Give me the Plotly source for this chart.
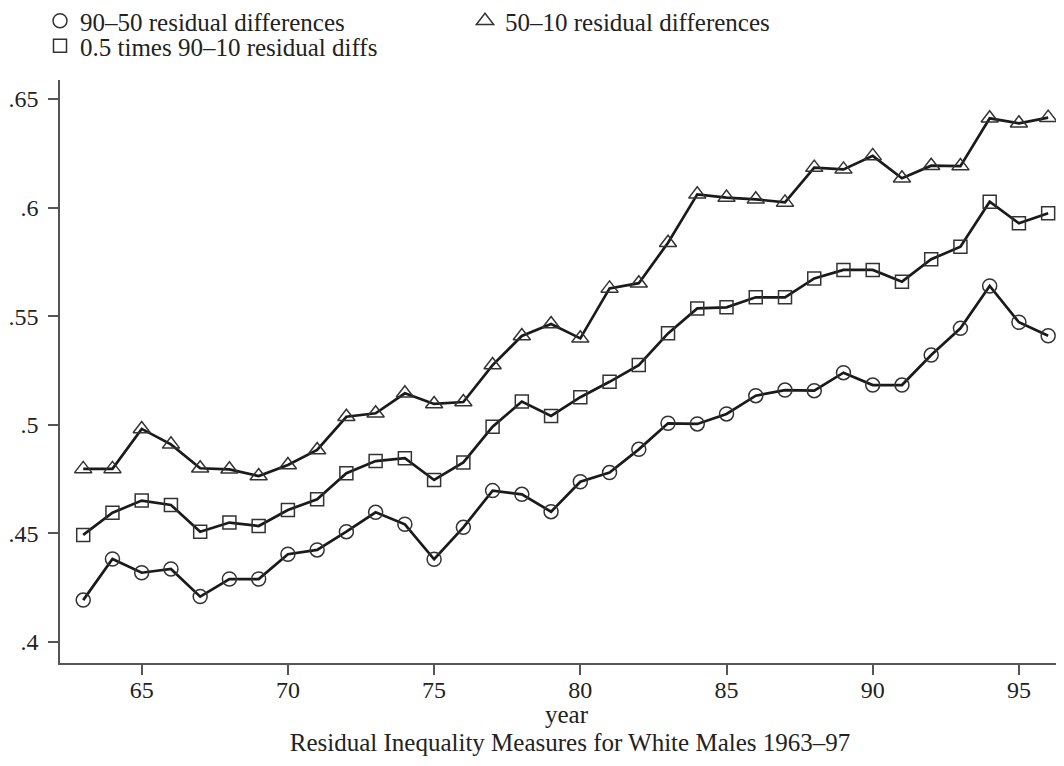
import plotly.graph_objects as go

years = list(range(63, 97))
tick_years = [65, 70, 75, 80, 85, 90, 95]
tick_year_labels = ["65", "70", "75", "80", "85", "90", "95"]
y_ticks = [0.4, 0.45, 0.5, 0.55, 0.6, 0.65]
y_tick_labels = [".4", ".45", ".5", ".55", ".6", ".65"]

names = ["90\u201350 residual differences",
         "50\u201310 residual differences",
         "0.5 times 90\u201310 residual diffs"]

diff_90_50 = [0.4193, 0.4382, 0.4319, 0.4336, 0.4209, 0.4290, 0.4290, 0.4404, 0.4424, 0.4508,
              0.4597, 0.4542, 0.4381, 0.4528, 0.4697, 0.4680, 0.4600, 0.4738, 0.4780, 0.4887,
              0.5007, 0.5004, 0.5050, 0.5134, 0.5160, 0.5157, 0.5240, 0.5183, 0.5183, 0.5321,
              0.5444, 0.5639, 0.5472, 0.5410]
diff_50_10 = [0.4797, 0.4797, 0.4981, 0.4910, 0.4800, 0.4795, 0.4764, 0.4815, 0.4884, 0.5037,
              0.5053, 0.5145, 0.5096, 0.5105, 0.5275, 0.5409, 0.5464, 0.5398, 0.5628, 0.5652,
              0.5838, 0.6061, 0.6046, 0.6038, 0.6024, 0.6184, 0.6176, 0.6238, 0.6135, 0.6193,
              0.6191, 0.6411, 0.6388, 0.6414]
half_90_10 = [0.4493, 0.4595, 0.4651, 0.4631, 0.4508, 0.4550, 0.4534, 0.4608, 0.4657, 0.4777,
              0.4833, 0.4846, 0.4746, 0.4827, 0.4991, 0.5107, 0.5041, 0.5127, 0.5198, 0.5275,
              0.5421, 0.5536, 0.5541, 0.5587, 0.5587, 0.5674, 0.5713, 0.5713, 0.5659, 0.5762,
              0.5820, 0.6027, 0.5928, 0.5974]

FONT = "Liberation Serif, Times New Roman, serif"
TEXT_COLOR = "#222222"
LINE_COLOR = "#1a1a1a"
MARK_COLOR = "#333333"
AXIS_COLOR = "#555555"

W, H = 1048, 750          # page body adds an 8px margin around the figure
ML, MT, MB = 52, 72, 94.7

fig = go.Figure()
series = [(diff_90_50, "circle-open", 14, "legend"),
          (diff_50_10, "triangle-up-open", 15, "legend"),
          (half_90_10, "square-open", 13, "legend2")]
for (vals, sym, size, leg), name in zip(series, names):
    marker = dict(symbol=sym, size=size, color=MARK_COLOR,
                  line=dict(color=MARK_COLOR, width=1.5))
    # data trace (line + markers)
    fig.add_trace(go.Scatter(
        x=years, y=vals, name=name, mode="lines+markers", showlegend=False,
        line=dict(color=LINE_COLOR, width=2.7), marker=marker, cliponaxis=False,
    ))
    # legend entry: marker symbol only
    fig.add_trace(go.Scatter(
        x=[None], y=[None], name=name, mode="markers", marker=marker,
        legend=leg, showlegend=True,
    ))

legend_common = dict(orientation="h", xref="container", yref="container",
                     xanchor="left", yanchor="middle",
                     font=dict(family=FONT, size=25, color=TEXT_COLOR),
                     bgcolor="rgba(0,0,0,0)", itemclick=False, itemdoubleclick=False)

fig.update_layout(
    width=W, height=H,
    margin=dict(l=ML, r=0, t=MT, b=MB, autoexpand=False),
    paper_bgcolor="white", plot_bgcolor="white",
    font=dict(family=FONT, size=24, color=TEXT_COLOR),
    showlegend=True,
    legend=dict(x=32 / W, y=1 - 13 / H, entrywidth=380, entrywidthmode="pixels",
                **legend_common),
    legend2=dict(x=32 / W, y=1 - 38 / H, **legend_common),
    title=dict(text="Residual Inequality Measures for White Males 1963\u201397",
               x=(562) / W, xanchor="center", xref="container",
               y=(H - 734) / H, yanchor="middle", yref="container",
               font=dict(family=FONT, size=25, color=TEXT_COLOR)),
    annotations=[dict(text="year", xref="paper", yref="paper",
                      x=(559 - ML) / (W - ML), y=(655.3 - 707) / (H - MT - MB),
                      xanchor="center", yanchor="middle", showarrow=False,
                      font=dict(family=FONT, size=25, color=TEXT_COLOR))],
)

fig.update_xaxes(
    range=[62.206, 96.268], tickvals=tick_years, ticktext=tick_year_labels,
    showgrid=False, zeroline=False, showline=True, linecolor=AXIS_COLOR, linewidth=1.5,
    ticks="outside", ticklen=10, tickwidth=1.5, tickcolor=AXIS_COLOR,
    ticklabelstandoff=-6, automargin=False,
)
fig.update_yaxes(
    range=[0.39034, 0.65874], tickvals=y_ticks, ticktext=y_tick_labels,
    showgrid=False, zeroline=False, showline=True, linecolor=AXIS_COLOR, linewidth=1.5,
    ticks="outside", ticklen=10, tickwidth=1.5, tickcolor=AXIS_COLOR,
    ticklabelstandoff=5, automargin=False,
)

fig.write_html("out.html")
